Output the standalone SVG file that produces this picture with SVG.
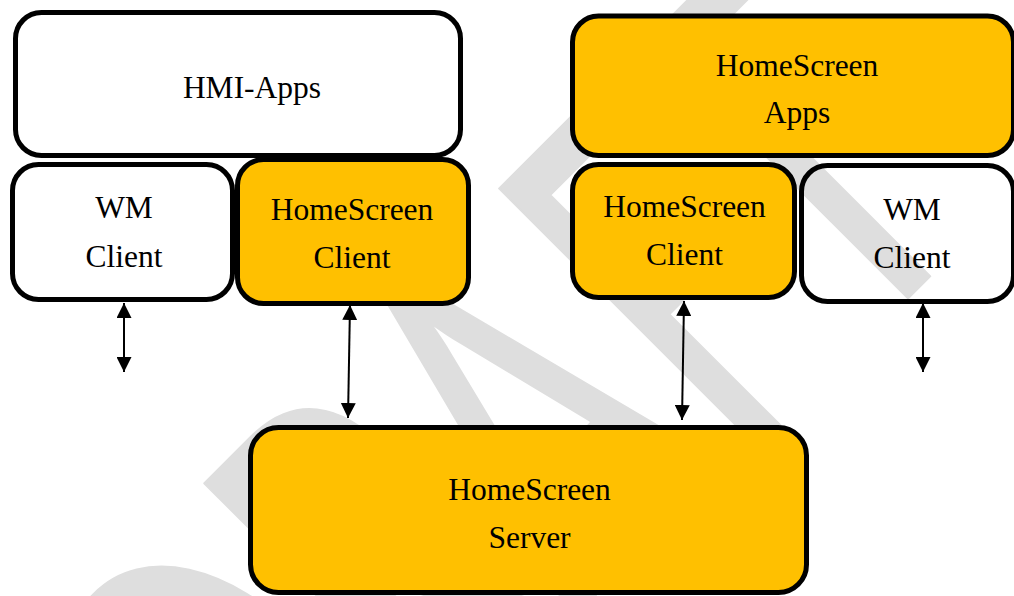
<svg xmlns="http://www.w3.org/2000/svg" width="1014" height="596" viewBox="0 0 1014 596">
<defs>
<style>
.box{stroke:#000;stroke-width:5}
.white{fill:none}
.yellow{fill:#FFC000}
.lbl{font-family:"Liberation Serif","Times New Roman",serif;font-size:31.5px;fill:#000;text-anchor:middle}
.conn{stroke:#000;stroke-width:2;fill:none;marker-start:url(#ah);marker-end:url(#ah)}
.wm{font-family:Lato,"Open Sans",sans-serif;font-size:330px;fill:#dedede;stroke:#dedede;stroke-width:1.5;stroke-linejoin:round}
</style>
<marker id="ah" markerUnits="userSpaceOnUse" markerWidth="15" markerHeight="15" refX="15" refY="7.5" orient="auto-start-reverse" viewBox="0 0 15 15">
<path d="M0,0 L15,7.5 L0,15 Z" fill="#000"/>
</marker>
</defs>
<rect width="1014" height="596" fill="#fff"/>
<g id="watermark" transform="translate(500,190) rotate(-45)">
<text class="wm" transform="scale(1,1.55)" x="-691 -447 -255 -30 130" y="235.5">DRAFT</text>
</g>
<g id="hmi-apps">
<rect class="box white" x="15.5" y="12.5" width="445" height="143" rx="26"/>
<text class="lbl" x="252" y="98">HMI-Apps</text>
</g>
<g id="wm-client-left">
<rect class="box white" x="12.5" y="164.5" width="220" height="135" rx="26"/>
<text class="lbl" x="124" y="218">WM</text>
<text class="lbl" x="124" y="267">Client</text>
</g>
<g id="hs-client-left">
<rect class="box yellow" x="237.5" y="159.5" width="231" height="144" rx="26"/>
<text class="lbl" x="352" y="220">HomeScreen</text>
<text class="lbl" x="352" y="268">Client</text>
</g>
<g id="hs-apps">
<rect class="box yellow" x="572.5" y="16" width="441" height="139.5" rx="26"/>
<text class="lbl" x="797" y="76">HomeScreen</text>
<text class="lbl" x="797" y="123">Apps</text>
</g>
<g id="hs-client-right">
<rect class="box yellow" x="572.5" y="164.5" width="222" height="133" rx="26"/>
<text class="lbl" x="684.5" y="217">HomeScreen</text>
<text class="lbl" x="684.5" y="265">Client</text>
</g>
<g id="wm-client-right">
<rect class="box white" x="801.5" y="165.5" width="212" height="136" rx="26"/>
<text class="lbl" x="912" y="220">WM</text>
<text class="lbl" x="912" y="268">Client</text>
</g>
<g id="hs-server">
<rect class="box yellow" x="250.5" y="427.5" width="556" height="165" rx="28"/>
<text class="lbl" x="529.5" y="500">HomeScreen</text>
<text class="lbl" x="529.5" y="548">Server</text>
</g>
<g id="connectors">
<line class="conn" x1="124" y1="303" x2="124" y2="372"/>
<line class="conn" x1="350" y1="305" x2="348" y2="418"/>
<line class="conn" x1="684" y1="301" x2="682" y2="420"/>
<line class="conn" x1="923" y1="303" x2="923" y2="372"/>
</g>
</svg>
